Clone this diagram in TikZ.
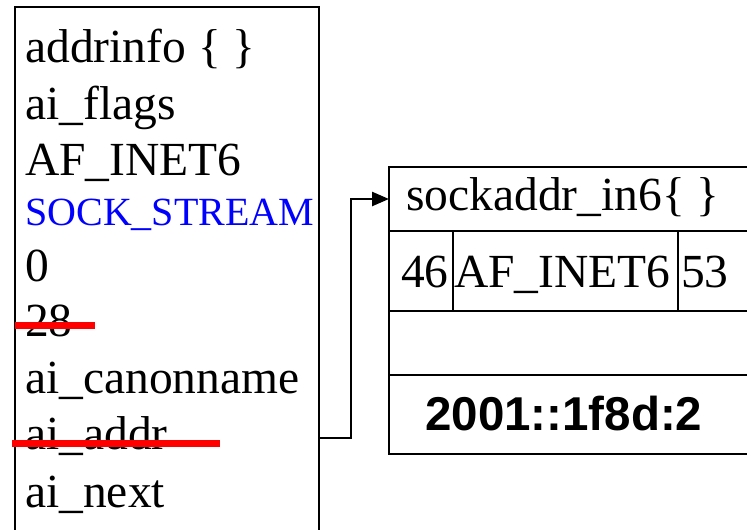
\documentclass[tikz,border=0pt]{standalone}
\usepackage{fontspec}
\setmainfont{Liberation Serif}
\newfontfamily\addrfont{Liberation Sans}
\usetikzlibrary{arrows.meta}
\begin{document}
\begin{tikzpicture}[x=1pt,y=-1pt,
  frame/.style={draw=black,line width=2.5pt},
  field/.style={anchor=base west,inner sep=0pt,font=\fontsize{47.5}{52}\selectfont},
  typefield/.style={field,font=\fontsize{40}{44}\selectfont,text={rgb,255:red,0;green,0;blue,255}},
  strike/.style={draw={rgb,255:red,255;green,0;blue,0},line width=7pt},
  link/.style={draw=black,line width=2.5pt,-{Triangle[length=17pt,width=14pt]}}]
\useasboundingbox (0,0) rectangle (747,530);

% struct addrinfo
\draw[frame] (15,540) -- (15,7) -- (319,7) -- (319,540);
\node[field] (title)  at (25,62)  {addrinfo \{ \}};
\node[field] (flags)  at (25,119) {ai\_flags};
\node[field] (family) at (25,175) {AF\_INET6};
\node[typefield] (socktype) at (25,225) {SOCK\_STREAM};
\node[field] (proto)  at (25,281) {0};
\node[field] (addrlen) at (25,336) {28};
\node[field] (canon)  at (25,393) {ai\_canonname};
\node[field] (addr)   at (25,449) {ai\_addr};
\node[field] (next)   at (25,507) {ai\_next};

% struck-out fields
\coordinate (s1a) at (15,325);
\coordinate (s1b) at (95,325);
\coordinate (s2a) at (12,443);
\coordinate (s2b) at (220,443);
\draw[strike] (s1a) -- (s1b);
\draw[strike] (s2a) -- (s2b);

% struct sockaddr_in6
\draw[frame] (760,167) -- (389,167) -- (389,454) -- (760,454);
\draw[frame] (389,231) -- (760,231);
\draw[frame] (389,311) -- (760,311);
\draw[frame] (389,375) -- (760,375);
\draw[frame] (453,231) -- (453,311);
\draw[frame] (678,231) -- (678,311);
\node[field] (sin6)  at (406,210) {sockaddr\_in6\{ \}};
\node[field] (len)   at (401,287) {46};
\node[field] (fam6)  at (454,287) {AF\_INET6};
\node[field] (port)  at (681,287) {53};
\node[field,font=\fontsize{47.5}{52}\selectfont\addrfont\bfseries] (ip6) at (425,430) {2001::1f8d:2};

% pointer from ai_addr to the socket address
\coordinate (from) at (319,438);
\coordinate (bend1) at (351,438);
\coordinate (bend2) at (351,199);
\coordinate (to) at (389,199);
\draw[link] (from) -- (bend1) -- (bend2) -- (to);
\end{tikzpicture}
\end{document}
